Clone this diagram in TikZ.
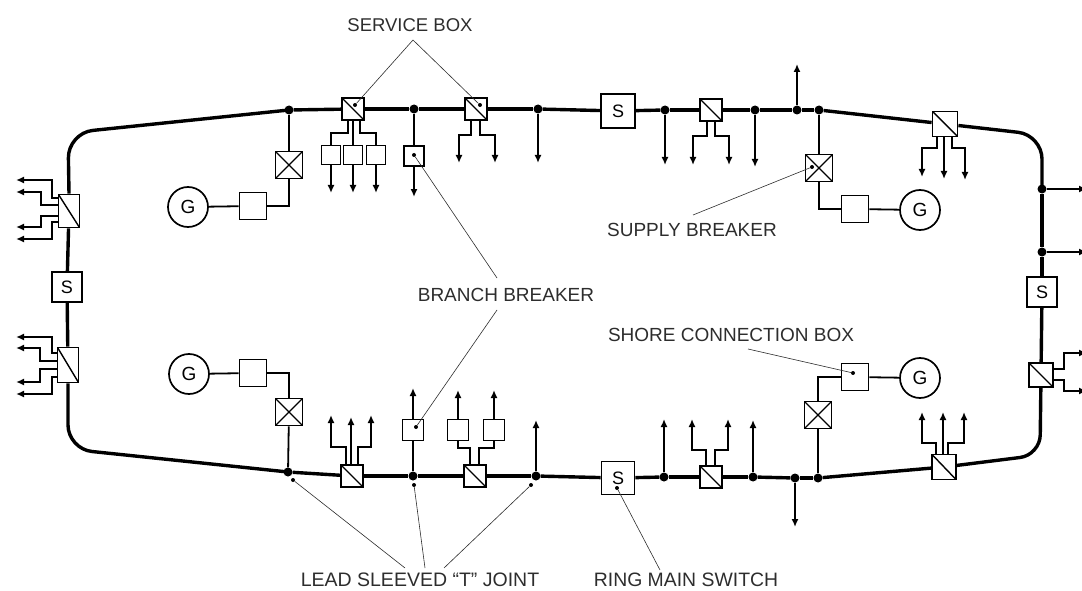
\documentclass[tikz,border=0pt]{standalone}
\usepackage{fontspec}
\setmainfont{Liberation Sans}
\usetikzlibrary{arrows.meta, positioning}
\definecolor{inkgrey}{RGB}{45, 45, 45}

\begin{document}
\begin{tikzpicture}[x=1pt, y=-1pt,
  bus/.style={line width=3.4pt, black},
  wire/.style={line width=1.8pt, black},
  feed/.style={wire, -{Latex[length=8pt, width=7pt]}},
  leader/.style={line width=0.6pt, inkgrey},
  boxnode/.style={draw, line width=1.8pt, fill=white, inner sep=0pt, minimum width=#1, minimum height=#1, font=\fontsize{18}{18}\selectfont},
  boxnode/.default=22pt,
  tbox/.style={boxnode=22pt, path picture={\draw[line width=1.4pt] (path picture bounding box.north west) -- (path picture bounding box.south east);}},
  xbox/.style={boxnode=27pt, path picture={\draw[line width=1.1pt] (path picture bounding box.north west) -- (path picture bounding box.south east) (path picture bounding box.north east) -- (path picture bounding box.south west);}},
  gen/.style={draw, circle, line width=1.7pt, fill=white, inner sep=0pt, minimum size=40pt, font=\fontsize{19}{19}\selectfont},
  joint/.style={circle, fill=black, inner sep=0pt, minimum size=9pt},
  pin/.style={circle, fill=black, inner sep=0pt, minimum size=4pt},
  lbl/.style={text=inkgrey, inner sep=0pt, font=\fontsize{#1}{#1}\selectfont},
  lbl/.default=18.5,
]
  \useasboundingbox (0,0) rectangle (1082,591);

  % Corners of the ring
  \coordinate (ctl) at (68,133);
  \coordinate (ctr) at (1042,135);
  \coordinate (cbr) at (1040,455);
  \coordinate (cbl) at (68,449);

  % Top row of the ring
  \node[joint] (jta) at (289,110) {};
  \node[tbox] (sba) at (353,109) {};
  \node[joint] (jtb) at (414,109) {};
  \node[tbox] (sbb) at (476,109) {};
  \node[joint] (jtc) at (538,109) {};
  \node[boxnode=34pt] (swt) at (618,111) {S};
  \node[joint] (jtd) at (665,110) {};
  \node[tbox] (sbc) at (711,110) {};
  \node[joint] (jte) at (755,110) {};
  \node[joint] (jtf) at (797,110) {};
  \node[joint] (jtg) at (819,110) {};
  \node[tbox, minimum width=25pt, minimum height=25pt] (sbd) at (945,124) {};

  % Bottom row of the ring
  \node[joint] (jba) at (288,472) {};
  \node[tbox] (sbe) at (352,476) {};
  \node[joint] (jbb) at (413,476) {};
  \node[tbox] (sbf) at (475,476) {};
  \node[joint] (jbc) at (536,476) {};
  \node[boxnode=33pt] (swb) at (618,478) {S};
  \node[joint] (jbd) at (664,477) {};
  \node[tbox] (sbg) at (711,477) {};
  \node[joint] (jbe) at (753,477) {};
  \node[joint] (jbf) at (795,478) {};
  \node[joint] (jbg) at (818,478) {};
  \node[tbox, minimum width=24pt, minimum height=25pt] (sbh) at (944,467) {};

  % Sides of the ring
  \node[tbox, minimum width=21pt, minimum height=33pt] (sbl) at (69,211) {};
  \node[boxnode=30pt] (swl) at (67,287) {S};
  \node[tbox, minimum width=21pt, minimum height=35pt] (sbm) at (68,365) {};
  \node[joint] (jra) at (1042,189) {};
  \node[joint] (jrb) at (1042,252) {};
  \node[boxnode=30pt] (swr) at (1042,292) {S};
  \node[tbox, minimum width=24pt, minimum height=24pt] (sbr) at (1041,375) {};

  % Ring main
  \draw[bus, rounded corners=25pt] (sbl.north) -- (ctl) -- (jta.center);
  \draw[bus, rounded corners=24pt] (sbd) -- (ctr) -- (jra.center);
  \draw[bus, rounded corners=20pt] (sbr) -- (cbr) -- (sbh);
  \draw[bus, rounded corners=24pt] (sbm.south) -- (cbl) -- (jba.center);
  \foreach \a/\b in {jta/sba, sba/jtb, jtb/sbb, sbb/jtc, jtc/swt, swt/jtd, jtd/sbc, sbc/jte, jte/jtf, jtf/jtg, jtg/sbd,
                     jba/sbe, sbe/jbb, jbb/sbf, sbf/jbc, jbc/swb, swb/jbd, jbd/sbg, sbg/jbe, jbe/jbf, jbf/jbg, jbg/sbh,
                     sbl/swl, swl/sbm, jra/jrb, jrb/swr, swr/sbr}
    \draw[bus] (\a) -- (\b);

  % Generator sets
  \node[xbox] (bka) at (289,165) {};
  \node[boxnode=27pt] (bxa) at (253,206) {};
  \node[gen] (gna) at (188,207) {G};
  \node[xbox] (bkb) at (289,412) {};
  \node[boxnode=27pt] (bxb) at (253,373) {};
  \node[gen] (gnb) at (189,374) {G};
  \node[xbox] (bkc) at (819,168) {};
  \node[boxnode=27pt] (bxc) at (855,209) {};
  \node[gen] (gnc) at (920,210) {G};
  \node[xbox] (bkd) at (818,415) {};
  \node[boxnode=27pt] (bxd) at (855,377) {};
  \node[gen] (gnd) at (920,378) {G};

  \draw[wire] (jta) -- (bka);
  \draw[wire] (bka) |- (bxa);
  \draw[wire] (bxa) -- (gna);
  \draw[wire] (jba) -- (bkb);
  \draw[wire] (bkb) |- (bxb);
  \draw[wire] (bxb) -- (gnb);
  \draw[wire] (jtg) -- (bkc);
  \draw[wire] (bkc) |- (bxc);
  \draw[wire] (bxc) -- (gnc);
  \draw[wire] (jbg) -- (bkd);
  \draw[wire] (bkd) |- (bxd);
  \draw[wire] (bxd) -- (gnd);

  % Branch breakers
  \node[boxnode=19pt] (fda) at (331,155) {};
  \node[boxnode=19pt] (fdb) at (353,155) {};
  \node[boxnode=19pt] (fdc) at (376,155) {};
  \node[boxnode=20pt] (fdd) at (414,156) {};
  \node[boxnode=21pt] (fde) at (413,430) {};
  \node[boxnode=21pt] (fdf) at (458,430) {};
  \node[boxnode=21pt] (fdg) at (494,430) {};

  % Arrow ends
  \foreach \nm/\x/\y in {ua/331/193, ub/353/193, uc/376/193, ud/414/197, ue/459/163, uf/495/163, ug/538/163,
                         uh/665/165, ui/693/165, uj/729/165, uk/755/167, ul/797/64, um/922/177, un/944/179, uo/965/180,
                         da/331/415, db/351/417, dc/371/415, dd/413/388, de/458/390, df/494/390, dg/536/420,
                         dh/664/419, di/692/419, dj/728/419, dk/753/420, dl/795/527, dm/922/412, dn/943/412, do/964/412,
                         la/16/180, lb/16/192, lc/16/227, ld/16/239, le/16/337, lf/16/348, lg/16/382, lh/16/394,
                         ra/1087/189, rb/1087/252, rc/1087/353, rd/1087/391}
    \coordinate (\nm) at (\x,\y);

  % Feeders, top
  \draw[wire] ([xshift=-5pt]sba.south) -- ++(0,12) -| (fda.north);
  \draw[wire] (sba.south -| fdb) -- (fdb.north);
  \draw[wire] ([xshift=7pt]sba.south) -- ++(0,12) -| (fdc.north);
  \draw[feed] (fda) -- (ua);
  \draw[feed] (fdb) -- (ub);
  \draw[feed] (fdc) -- (uc);
  \draw[wire] (jtb) -- (fdd);
  \draw[feed] (fdd) -- (ud);
  \draw[feed] ([xshift=-5pt]sbb.south) -- ++(0,14) -| (ue);
  \draw[feed] ([xshift=4pt]sbb.south) -- ++(0,14) -| (uf);
  \draw[feed] (jtc) -- (ug);
  \draw[feed] (jtd) -- (uh);
  \draw[feed] ([xshift=-4pt]sbc.south) -- ++(0,14) -| (ui);
  \draw[feed] ([xshift=4pt]sbc.south) -- ++(0,14) -| (uj);
  \draw[feed] (jte) -- (uk);
  \draw[feed] (jtf) -- (ul);
  \draw[feed] ([xshift=-8pt]sbd.south) -- ++(0,11) -| (um);
  \draw[feed] (sbd.south -| un) -- (un);
  \draw[feed] ([xshift=7pt]sbd.south) -- ++(0,11) -| (uo);

  % Feeders, bottom
  \draw[feed] ([xshift=-6pt]sbe.north) -- ++(0,-17) -| (da);
  \draw[feed] (sbe.north -| db) -- (db);
  \draw[feed] ([xshift=6pt]sbe.north) -- ++(0,-17) -| (dc);
  \draw[wire] (jbb) -- (fde);
  \draw[feed] (fde) -- (dd);
  \draw[wire] ([xshift=-5pt]sbf.north) -- ++(0,-16) -| (fdf.south);
  \draw[wire] ([xshift=4pt]sbf.north) -- ++(0,-16) -| (fdg.south);
  \draw[feed] (fdf) -- (de);
  \draw[feed] (fdg) -- (df);
  \draw[feed] (jbc) -- (dg);
  \draw[feed] (jbd) -- (dh);
  \draw[feed] ([xshift=-5pt]sbg.north) -- ++(0,-15) -| (di);
  \draw[feed] ([xshift=4pt]sbg.north) -- ++(0,-15) -| (dj);
  \draw[feed] (jbe) -- (dk);
  \draw[feed] (jbf) -- (dl);
  \draw[feed] ([xshift=-8pt]sbh.north) -- ++(0,-11) -| (dm);
  \draw[feed] (sbh.north -| dn) -- (dn);
  \draw[feed] ([xshift=4pt]sbh.north) -- ++(0,-11) -| (do);

  % Feeders, left and right
  \draw[feed] ([yshift=13pt]sbl.west) -- ++(-6,0) |- (la);
  \draw[feed] ([yshift=6pt]sbl.west) -- ++(-17,0) |- (lb);
  \draw[feed] ([yshift=-5pt]sbl.west) -- ++(-17,0) |- (lc);
  \draw[feed] ([yshift=-11pt]sbl.west) -- ++(-6,0) |- (ld);
  \draw[feed] ([yshift=12pt]sbm.west) -- ++(-5,0) |- (le);
  \draw[feed] ([yshift=4pt]sbm.west) -- ++(-17,0) |- (lf);
  \draw[feed] ([yshift=-4pt]sbm.west) -- ++(-17,0) |- (lg);
  \draw[feed] ([yshift=-12pt]sbm.west) -- ++(-5,0) |- (lh);
  \draw[feed] (jra) -- (ra);
  \draw[feed] (jrb) -- (rb);
  \draw[feed] ([yshift=6pt]sbr.east) -- ++(10,0) |- (rc);
  \draw[feed] ([yshift=-5pt]sbr.east) -- ++(10,0) |- (rd);

  % Labels
  \node[lbl] (svc) at (410,25) {SERVICE BOX};
  \node[lbl=19] (brn) at (506,295) {BRANCH BREAKER};
  \node[lbl=19] (sup) at (692,230) {SUPPLY BREAKER};
  \node[lbl=19] (shr) at (731,335) {SHORE CONNECTION BOX};
  \node[lbl=19.5] (led) at (420,580) {LEAD SLEEVED ``T'' JOINT};
  \node[lbl=19.4] (rng) at (686,580) {RING MAIN SWITCH};

  % Pointer dots
  \node[pin] (pa) at (355,105) {};
  \node[pin] (pb) at (480,105) {};
  \node[pin] (pc) at (414,155) {};
  \node[pin] (pd) at (416,427) {};
  \node[pin] (pe) at (812,167) {};
  \node[pin] (pf) at (853,373) {};
  \node[pin] (pg) at (293,480) {};
  \node[pin] (ph) at (414,485) {};
  \node[pin] (pi) at (531,485) {};
  \node[pin] (pj) at (617,488) {};

  % Pointer lines
  \coordinate (qa) at (413,40);
  \coordinate (qb) at (497,278);
  \coordinate (qc) at (497,310);
  \coordinate (qd) at (693,215);
  \coordinate (qe) at (748,349);
  \coordinate (qf) at (405,568);
  \coordinate (qg) at (425,568);
  \coordinate (qh) at (444,568);
  \coordinate (qi) at (660,570);
  \draw[leader] (pa) -- (qa) -- (pb);
  \draw[leader] (qb) -- (pc);
  \draw[leader] (qc) -- (pd);
  \draw[leader] (qd) -- (pe);
  \draw[leader] (qe) -- (pf);
  \draw[leader] (qf) -- (pg);
  \draw[leader] (qg) -- (ph);
  \draw[leader] (qh) -- (pi);
  \draw[leader] (qi) -- (pj);
\end{tikzpicture}
\end{document}
